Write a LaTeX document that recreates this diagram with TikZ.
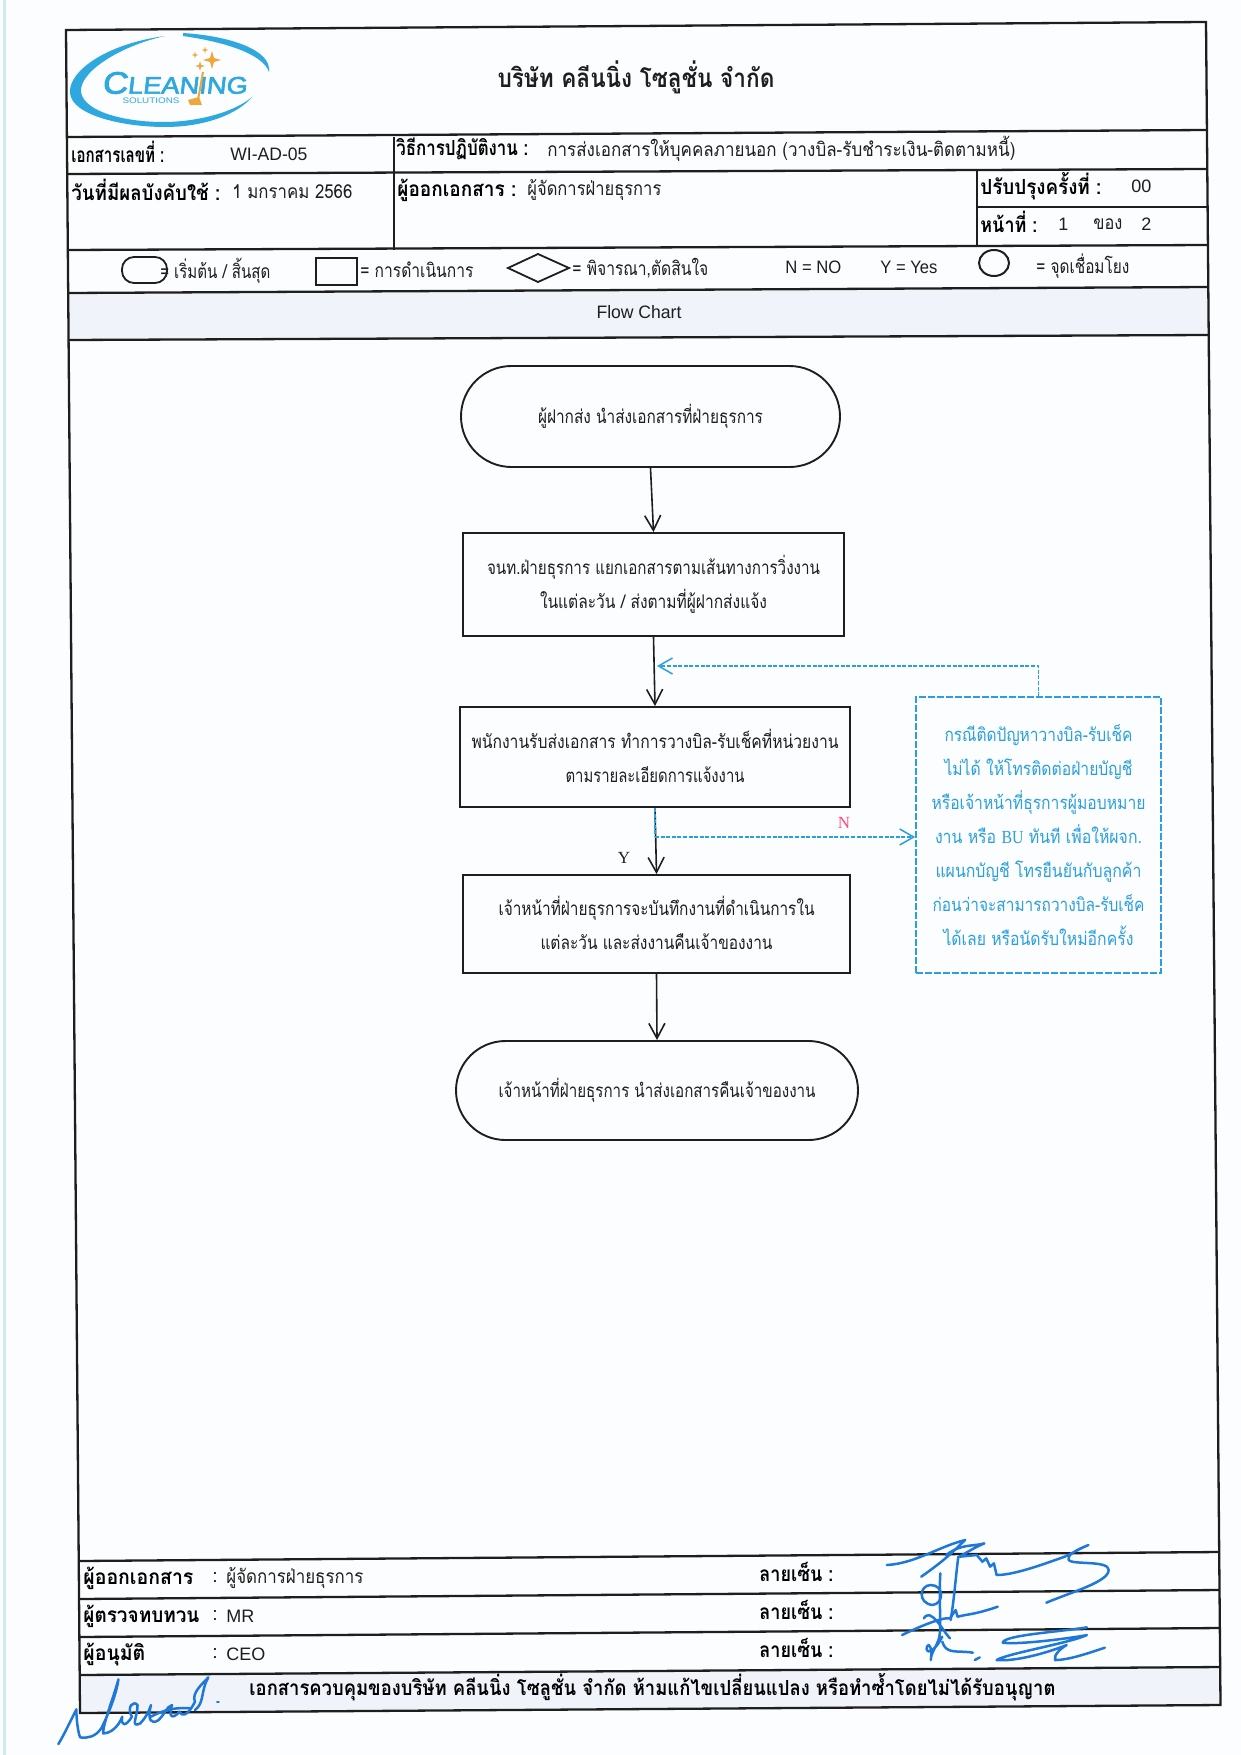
\documentclass[tikz,border=0pt]{standalone}
\usepackage{fontspec}
\usepackage{graphicx}
\usetikzlibrary{arrows.meta,shapes.misc}
\newfontfamily\thf[Script=Thai]{Loma}
\newfontfamily\lat{Liberation Sans}
\newfontfamily\latser{Liberation Serif}
\newfontfamily\logof[FakeBold=2.5,FakeSlant=0.1]{Liberation Sans}
\definecolor{ink}{HTML}{1E1E1E}
\definecolor{bluenote}{HTML}{2A9FDC}
\definecolor{sigblue}{HTML}{1F78D8}
\definecolor{logoblue}{HTML}{2FA8E0}
\definecolor{logoorange}{HTML}{EFA63C}
\definecolor{band}{HTML}{F0F4FA}
\definecolor{pagebg}{HTML}{FCFDFE}
\newsavebox{\fwbox}
% \fw{width in px}{text}: real text, stretched to the printed width
\newcommand{\fw}[2]{\sbox{\fwbox}{#2}\pgfmathsetmacro{\fwr}{#1*0.5pt/\wd\fwbox}\scalebox{\fwr}[1]{\usebox{\fwbox}}}
\newcommand{\fwu}[2]{\raisebox{1.1pt}{\fw{#1}{#2}}}
\newcommand{\sparkle}[3]{\fill[logoorange] (#1,#2-#3) -- (#1+.22*#3,#2-.22*#3) -- (#1+#3,#2) -- (#1+.22*#3,#2+.22*#3) -- (#1,#2+#3) -- (#1-.22*#3,#2+.22*#3) -- (#1-#3,#2) -- (#1-.22*#3,#2-.22*#3) -- cycle;}
\tikzset{
  frameline/.style={draw=ink,line width=1.15pt},
  tl/.style={anchor=west,inner sep=0pt,text=ink,font=\thf\fontsize{9.6}{12}\selectfont},
  tlb/.style={anchor=west,inner sep=0pt,text=black,font=\thf\bfseries\fontsize{10.4}{12}\selectfont},
  ll/.style={anchor=west,inner sep=0pt,text=ink,font=\lat\fontsize{9}{12}\selectfont},
  flowtext/.style={align=center,text=ink,inner sep=0pt,font=\thf\fontsize{9.4}{17}\selectfont},
  stadium/.style={flowtext,draw=ink,line width=.95pt,rounded rectangle,rounded rectangle arc length=180},
  procbox/.style={flowtext,draw=ink,line width=.95pt,rectangle},
  notebox/.style={align=center,inner sep=0pt,text=bluenote,draw=bluenote,dash pattern=on 3.5pt off 1pt,line width=.85pt,rectangle,font=\thf\fontsize{9.2}{17}\selectfont},
  flowarrow/.style={draw=ink,line width=.8pt,-{Straight Barb[length=7.5pt,width=8pt]}},
  notearrow/.style={draw=bluenote,dash pattern=on 2pt off .8pt,line width=.75pt,-{Straight Barb[length=7pt,width=8pt]}},
  sig/.style={draw=sigblue,line width=1.25pt,line cap=round,line join=round},
}
\begin{document}
\begin{tikzpicture}[x=0.5pt,y=-0.5pt]
\useasboundingbox (0,0) rectangle (1241,1755);
\fill[pagebg] (0,0) rectangle (1241,1755);
\fill[gray!45!cyan!25!white] (3,0) rectangle (6,1755);
% bands
\fill[band] (68.2,293) -- (1208.3,287) -- (1208.7,335) -- (68.6,340) -- cycle;
\fill[band] (79.7,1675) -- (1220.2,1667) -- (1220.5,1705) -- (80,1713) -- cycle;
% frame
\draw[frameline] (66,30) -- (1206,22) -- (1220.5,1705) -- (80,1713) -- cycle;
\draw[frameline] (66.9,137) -- (1207,130);
\draw[frameline] (67.2,174) -- (1207.3,169);
\draw[frameline] (977,207) -- (1207.6,207);
\draw[frameline] (67.8,250) -- (1208,245);
\draw[frameline] (68.2,293) -- (1208.3,287);
\draw[frameline] (68.6,340) -- (1208.7,335);
\draw[frameline] (394,137) -- (394,250);
\draw[frameline] (977,169) -- (977,245);
\draw[frameline] (78.7,1561) -- (1219.2,1552);
\draw[frameline] (79,1599) -- (1219.5,1590);
\draw[frameline] (79.4,1637) -- (1219.8,1628);
\draw[frameline] (79.7,1675) -- (1220.2,1667);
% logo
\fill[logoblue] (165,36) .. controls (105,44) and (68,72) .. (70,93) .. controls (72,116) and (125,127) .. (165,127) .. controls (205,127) and (238,114) .. (252,97) .. controls (236,111) and (200,122) .. (163,122) .. controls (125,122) and (84,112) .. (81,92) .. controls (79,72) and (120,46) .. (165,36) -- cycle;
\fill[logoblue] (183,33) .. controls (230,36) and (272,50) .. (269,72) .. controls (263,54) and (225,42) .. (183,36) -- cycle;
\node[anchor=center,inner sep=0pt,text=logoblue] (logotext) at (174.5,83) {\fw{145}{\logof\fontsize{15.5}{15}\selectfont C\fontsize{12}{12}\selectfont LEANING}};
\node[anchor=center,inner sep=0pt,text=logoblue] (logosub) at (151,101) {\fw{57}{\lat\fontsize{4}{4}\selectfont SOLUTIONS}};
\draw[logoorange,line width=1pt] (203,72) -- (198,100);
\fill[logoorange] (188,100) -- (199,97) -- (202,105) -- (190,105) -- cycle;
\sparkle{212}{60}{9}
\sparkle{200}{66}{5}
\sparkle{195}{55}{3.5}
\sparkle{205}{50}{3.5}
% header texts
\node[anchor=center,inner sep=0pt,text=ink] (title) at (636,77) {\fw{277}{\thf\bfseries\fontsize{13}{15}\selectfont บริษัท คลีนนิ่ง โซลูชั่น จำกัด}};
\node[tlb] (docno) at (71,152) {\fw{93}{เอกสารเลขที่ :}};
\node[ll] (docnov) at (230,154) {\fw{77}{WI-AD-05}};
\node[tlb] (wi) at (396,149) {\fw{132}{วิธีการปฏิบัติงาน :}};
\node[tl] (wiv) at (547,149) {\fw{468}{การส่งเอกสารให้บุคคลภายนอก (วางบิล-รับชำระเงิน-ติดตามหนี้)}};
\node[tlb] (eff) at (71,190) {\fw{149}{วันที่มีผลบังคับใช้ :}};
\node[tl] (effv) at (232,192) {\fw{120}{1 มกราคม 2566}};
\node[tlb] (iss) at (397,190) {\fw{119}{ผู้ออกเอกสาร :}};
\node[tl] (issv) at (527,190) {\fw{134}{ผู้จัดการฝ่ายธุรการ}};
\node[tlb] (rev) at (980,186) {\fw{121}{ปรับปรุงครั้งที่ :}};
\node[ll] (revv) at (1131,186) {00};
\node[tlb] (pg) at (980,222) {\fw{57}{หน้าที่ :}};
\node[ll] (pgn) at (1058,224) {1};
\node[tl] (pgof) at (1093,224) {\fw{29}{ของ}};
\node[ll] (pgm) at (1141,224) {2};
% legend
\draw[draw=ink,line width=.9pt,rounded corners=6pt] (122,257) rectangle (167,283);
\node[tl,fill=none] (lg1) at (160,271) {\fw{110}{= เริ่มต้น / สิ้นสุด}};
\draw[draw=ink,line width=1pt] (316,258) rectangle (357,285);
\node[tl] (lg2) at (360,270) {\fw{113}{= การดำเนินการ}};
\draw[draw=ink,line width=.9pt] (508,268) -- (538,254) -- (569,268) -- (538,282) -- cycle;
\node[tl] (lg3) at (572,268) {\fw{136}{= พิจารณา,ตัดสินใจ}};
\node[ll] (lg4) at (785,267) {\fw{56}{N = NO}};
\node[ll] (lg5) at (880,267) {\fw{57}{Y = Yes}};
\draw[draw=ink,line width=1pt] (994,263) ellipse (15 and 13);
\node[tl] (lg6) at (1036,266) {\fw{93}{= จุดเชื่อมโยง}};
\node[anchor=center,inner sep=0pt,text=ink,font=\lat\fontsize{9}{12}\selectfont] (fc) at (639,312) {\fw{85}{Flow Chart}};
% flow
\node[stadium,minimum width=189.5pt,minimum height=50.5pt] (n1) at (650.5,416.5) {\fw{225}{ผู้ฝากส่ง นำส่งเอกสารที่ฝ่ายธุรการ}};
\node[procbox,minimum width=190.5pt,minimum height=51.5pt] (n2) at (653.5,584.5) {\fw{333}{จนท.ฝ่ายธุรการ แยกเอกสารตามเส้นทางการวิ่งงาน}\\\fw{227}{ในแต่ละวัน / ส่งตามที่ผู้ฝากส่งแจ้ง}};
\node[procbox,minimum width=195pt,minimum height=50pt] (n3) at (655,757) {\fwu{367}{พนักงานรับส่งเอกสาร ทำการวางบิล-รับเช็คที่หน่วยงาน}\\\fwu{179}{ตามรายละเอียดการแจ้งงาน}};
\node[procbox,minimum width=193.5pt,minimum height=49pt] (n4) at (656.5,924) {\fwu{316}{เจ้าหน้าที่ฝ่ายธุรการจะบันทึกงานที่ดำเนินการใน}\\\fwu{232}{แต่ละวัน และส่งงานคืนเจ้าของงาน}};
\node[stadium,minimum width=201pt,minimum height=49.5pt] (n5) at (657,1090.5) {\fw{317}{เจ้าหน้าที่ฝ่ายธุรการ นำส่งเอกสารคืนเจ้าของงาน}};
\node[notebox,minimum width=122.5pt,minimum height=138pt] (note) at (1038.5,835) {%
\fw{188}{กรณีติดปัญหาวางบิล-รับเช็ค}\\
\fw{188}{ไม่ได้ ให้โทรติดต่อฝ่ายบัญชี}\\
\fw{214}{หรือเจ้าหน้าที่ธุรการผู้มอบหมาย}\\
\fw{207}{งาน หรือ {\latser BU} ทันที เพื่อให้ผจก.}\\
\fw{206}{แผนกบัญชี โทรยืนยันกับลูกค้า}\\
\fw{212}{ก่อนว่าจะสามารถวางบิล-รับเช็ค}\\
\fw{190}{ได้เลย หรือนัดรับใหม่อีกครั้ง}};
\coordinate (fb) at (657,666);
\coordinate (nstart) at (655,837);
\draw[flowarrow] (n1.south) -- (n2.north);
\draw[flowarrow] (n2.south) -- (n3.north);
\draw[flowarrow] (n3.south) -- (n4.north);
\draw[flowarrow] (n4.south) -- (n5.north);
\draw[notearrow] (note.north) |- (fb);
\draw[notearrow] (nstart) -- (nstart -| note.west);
\draw[draw=bluenote,dash pattern=on 2pt off .8pt,line width=.75pt] (n3.south) -- (nstart);
\node[anchor=center,inner sep=0pt,text=red!75!magenta!70!white,font=\latser\fontsize{8.5}{10}\selectfont] (lbn) at (844,823) {N};
\node[anchor=center,inner sep=0pt,text=ink,font=\latser\fontsize{8.5}{10}\selectfont] (lby) at (624,858) {Y};
% sign-off
\node[tlb] (s1) at (83,1578) {\fw{110}{ผู้ออกเอกสาร}};
\node[tl] (s1c) at (212,1578) {:};
\node[tl] (s1v) at (226,1578) {\fw{137}{ผู้จัดการฝ่ายธุรการ}};
\node[tlb] (s2) at (83,1616) {\fw{116}{ผู้ตรวจทบทวน}};
\node[tl] (s2c) at (212,1616) {:};
\node[ll] (s2v) at (226,1616) {MR};
\node[tlb] (s3) at (83,1654) {\fw{62}{ผู้อนุมัติ}};
\node[tl] (s3c) at (212,1654) {:};
\node[ll] (s3v) at (226,1654) {CEO};
\node[tlb] (sg1) at (759,1572) {\fw{74}{ลายเซ็น :}};
\node[tlb] (sg2) at (759,1610) {\fw{74}{ลายเซ็น :}};
\node[tlb] (sg3) at (759,1648) {\fw{74}{ลายเซ็น :}};
\node[tlb] (foot) at (249,1687) {\fw{806}{เอกสารควบคุมของบริษัท คลีนนิ่ง โซลูชั่น จำกัด ห้ามแก้ไขเปลี่ยนแปลง หรือทำซ้ำโดยไม่ได้รับอนุญาต}};
% signatures
\begin{scope}[shift={(640,1520)},x=0.1913pt,y=-0.1667pt]
\draw[sig] (645,135) .. controls (720,130) and (780,80) .. (850,60) .. controls (830,80) and (810,110) .. (735,170);
\draw[sig] (800,105) .. controls (840,70) and (870,80) .. (900,70) .. controls (870,85) and (850,100) .. (835,110) -- (880,105) -- (895,125) -- (905,115) -- (915,140) -- (925,130) -- (932,165) .. controls (980,165) and (1060,130) .. (1110,110) .. controls (1130,100) and (1150,85) .. (1172,75) .. controls (1140,90) and (1115,105) .. (1120,120) .. controls (1130,135) and (1225,120) .. (1225,150) .. controls (1225,185) and (1130,215) .. (1062,248);
\draw[sig] (832,110) .. controls (825,170) and (822,230) .. (812,300);
\draw[sig] (785,160) .. controls (780,250) and (790,330) .. (780,360) .. controls (770,390) and (760,400) .. (760,420) .. controls (765,385) and (755,365) .. (750,380) .. controls (745,400) and (765,405) .. (790,350);
\draw[sig] (760,195) .. controls (730,195) and (725,250) .. (765,255) .. controls (795,250) and (795,195) .. (760,195);
\draw[sig] (742,295) .. controls (760,260) and (790,330) .. (810,355);
\draw[sig] (685,345) .. controls (720,325) and (790,290) .. (810,295) -- (825,270) -- (830,290) -- (850,285) .. controls (880,280) and (910,270) .. (935,260);
\draw[sig] (790,365) .. controls (800,405) and (830,390) .. (870,398);
\draw[sig] (875,420) -- (888,412);
\draw[sig] (1168,322) .. controls (1100,335) and (950,345) .. (948,368) .. controls (1000,375) and (1150,350) .. (1168,345) .. controls (1120,370) and (960,400) .. (932,420) .. controls (980,425) and (1060,400) .. (1115,375) .. controls (1100,385) and (1080,405) .. (1085,420) .. controls (1120,420) and (1170,400) .. (1215,383);
\end{scope}
\begin{scope}[shift={(40,1520)},x=0.1913pt,y=-0.1667pt]
\draw[sig] (48,672) .. controls (65,640) and (85,590) .. (95,568) .. controls (95,600) and (100,640) .. (105,652) .. controls (125,655) and (145,650) .. (160,625) .. controls (180,580) and (200,520) .. (205,478) .. controls (190,540) and (165,610) .. (165,640) .. controls (185,640) and (205,620) .. (215,590) .. controls (210,620) and (225,620) .. (240,590) .. controls (225,560) and (245,540) .. (255,555) .. controls (255,590) and (235,625) .. (262,610) .. controls (275,595) and (285,575) .. (290,555) .. controls (280,600) and (290,615) .. (310,600) .. controls (325,585) and (330,560) .. (345,555) .. controls (335,590) and (345,600) .. (365,575) .. controls (370,590) and (385,590) .. (405,545) .. controls (395,520) and (425,490) .. (440,472) .. controls (420,510) and (430,550) .. (405,570);
\draw[sig] (290,590) .. controls (320,570) and (360,560) .. (395,565);
\draw[sig] (463,546) -- (467,546);
\end{scope}
\end{tikzpicture}
\end{document}
